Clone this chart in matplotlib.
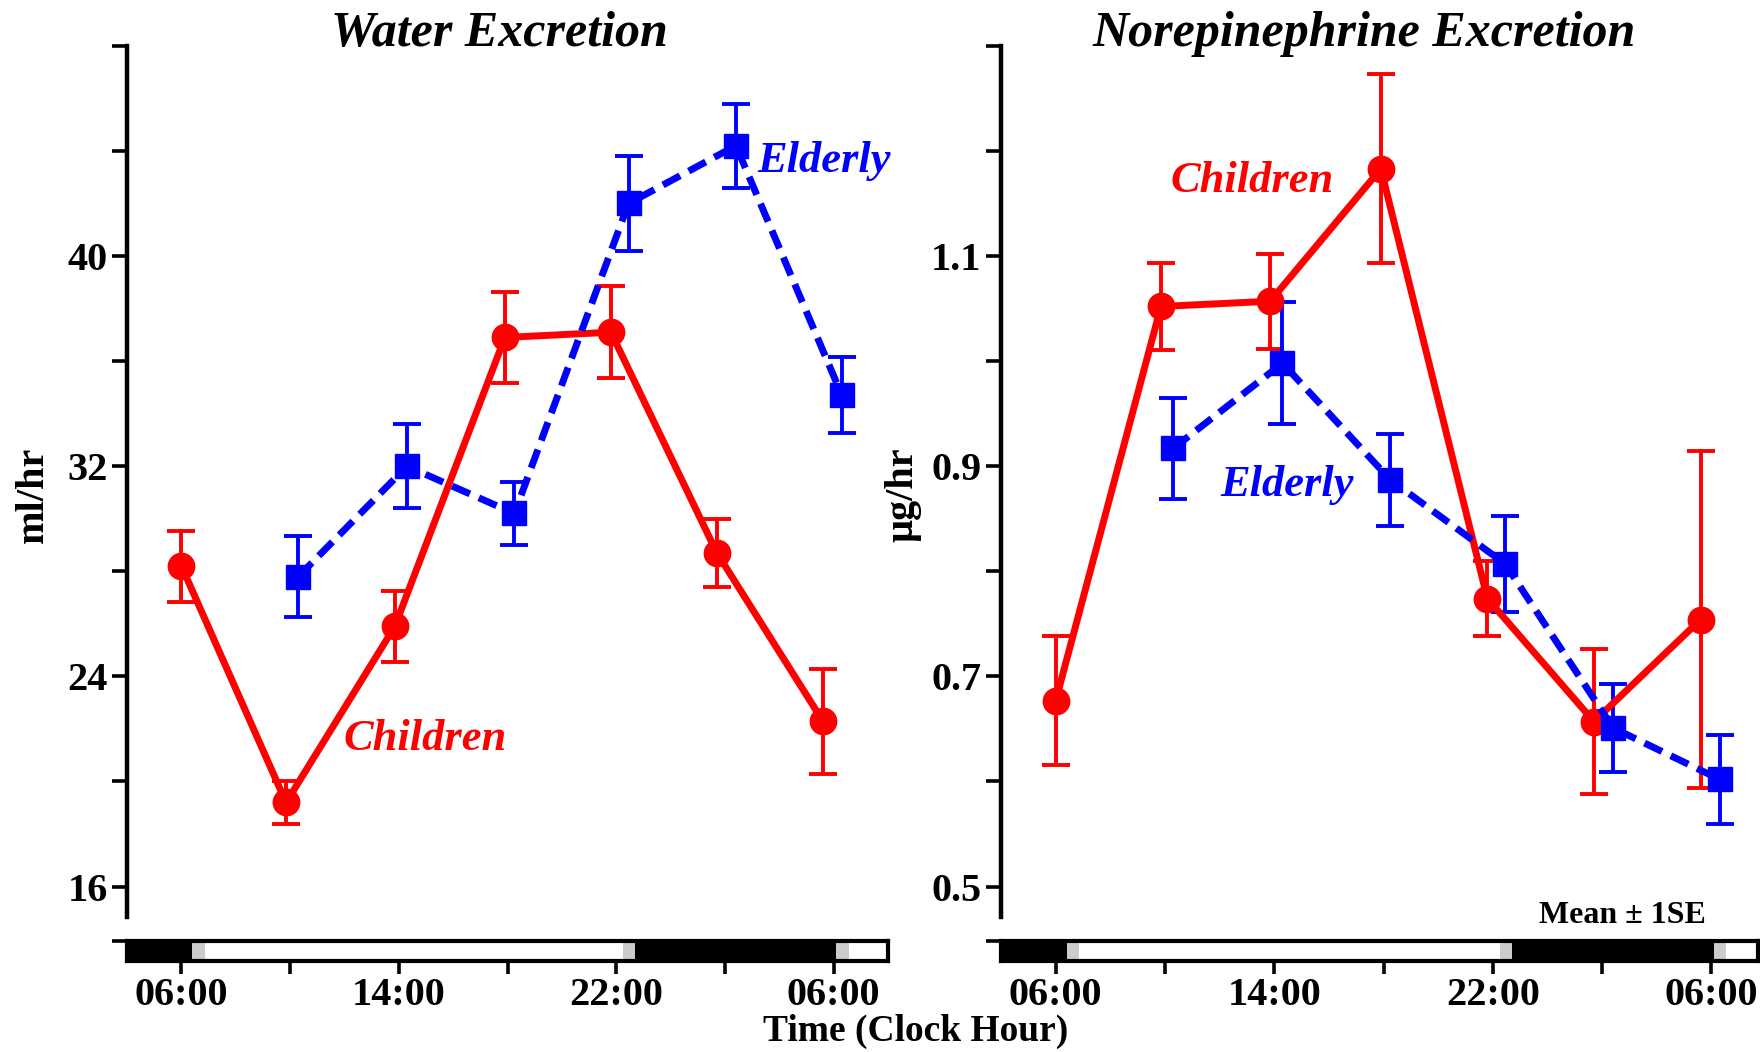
import matplotlib.pyplot as plt

plt.rcParams['font.family'] = ['Liberation Serif', 'DejaVu Serif']
plt.rcParams['font.weight'] = 'bold'

# sampling times in clock hours (values past 24 are the next morning)
child_hours = [6.0, 9.85, 13.85, 17.9, 21.8, 25.7, 29.6]
elder_hours = [10.3, 14.3, 18.25, 22.45, 26.4, 30.3]

# water excretion, ml/hr
water_child = [28.2, 19.2, 25.9, 36.9, 37.1, 28.7, 22.3]
water_child_se = [1.35, 0.8, 1.35, 1.75, 1.75, 1.3, 2.0]
water_elder = [27.8, 32.0, 30.2, 42.0, 44.2, 34.7]
water_elder_se = [1.55, 1.6, 1.2, 1.8, 1.6, 1.45]

# norepinephrine excretion, ug/hr
ne_child = [0.677, 1.052, 1.057, 1.183, 0.774, 0.657, 0.754]
ne_child_se = [0.061, 0.041, 0.045, 0.09, 0.036, 0.069, 0.16]
ne_elder = [0.917, 0.998, 0.887, 0.807, 0.651, 0.602]
ne_elder_se = [0.048, 0.058, 0.044, 0.046, 0.042, 0.042]

# light/dark schedule drawn as the bar under each panel
bar_starts = [4, 6.4, 6.85, 22.25, 22.7, 30.1, 30.55]
bar_ends = [6.4, 6.85, 22.25, 22.7, 30.1, 30.55, 32]
bar_colors = ['black', '#cccccc', 'white', '#cccccc', 'black', '#cccccc', 'white']

tick_hours = [6, 10, 14, 18, 22, 26, 30]
tick_labels = ['06:00', '', '14:00', '', '22:00', '', '06:00']

fig = plt.figure(figsize=(17.6, 10.52), dpi=100)

panels = [
    dict(rect=[0.0722, 0.1283, 0.4324, 0.8281], xmax=32,
         child=water_child, child_se=water_child_se,
         elder=water_elder, elder_se=water_elder_se,
         ylim=(14.84, 48), yticks=[16, 24, 32, 40, 48],
         ylabels=['16', '24', '32', '40', ''], yminor=[20, 28, 36, 44],
         ylabel='ml/hr', ylabel_x=0.019, title='Water Excretion', title_x=0.284,
         child_txt=(11.96, 21.62), elder_txt=(27.2, 43.6)),
    dict(rect=[0.5688, 0.1283, 0.4300, 0.8281], xmax=31.7,
         child=ne_child, child_se=ne_child_se,
         elder=ne_elder, elder_se=ne_elder_se,
         ylim=(0.471, 1.3), yticks=[0.5, 0.7, 0.9, 1.1, 1.3],
         ylabels=['0.5', '0.7', '0.9', '1.1', ''], yminor=[0.6, 0.8, 1.0, 1.2],
         ylabel='µg/hr', ylabel_x=0.513, title='Norepinephrine Excretion', title_x=0.775,
         child_txt=(10.19, 1.171), elder_txt=(12.04, 0.882)),
]

for p in panels:
    ax = fig.add_axes(p['rect'])
    ax.errorbar(child_hours, p['child'], yerr=p['child_se'], color='#ff0000',
                lw=5, marker='o', ms=19, capsize=10, elinewidth=2.8, capthick=2.8)
    ax.errorbar(elder_hours, p['elder'], yerr=p['elder_se'], color='#0000ff',
                lw=5, ls=(0, (2.8, 1.4)), marker='s', ms=17, capsize=10,
                elinewidth=2.8, capthick=2.8)
    ax.set_xlim(4, p['xmax'])
    ax.set_ylim(*p['ylim'])
    ax.set_yticks(p['yticks'])
    ax.set_yticklabels(p['ylabels'])
    ax.set_yticks(p['yminor'], minor=True)
    ax.tick_params(axis='y', which='both', length=11, width=2.6, labelsize=29, pad=3)
    ax.set_xticks([])
    for side in ['top', 'right', 'bottom']:
        ax.spines[side].set_visible(False)
    ax.spines['left'].set_linewidth(3.2)
    ax.text(*p['child_txt'], 'Children', color='#ff0000', fontsize=32,
            fontstyle='italic', va='center', ha='left')
    ax.text(*p['elder_txt'], 'Elderly', color='#0000ff', fontsize=32,
            fontstyle='italic', va='center', ha='left')
    fig.text(p['title_x'], 0.968, p['title'], fontsize=36, fontstyle='italic',
             ha='center', va='center')
    fig.text(p['ylabel_x'], 0.53, p['ylabel'], fontsize=29, rotation=90,
             ha='center', va='center')

    # light/dark bar with clock ticks
    r = p['rect']
    bx = fig.add_axes([r[0], 0.0867, r[2], 0.0192])
    for s, e, c in zip(bar_starts, bar_ends, bar_colors):
        bx.axvspan(s, e, color=c, lw=0)
    bx.set_xlim(4, p['xmax'])
    bx.set_ylim(0, 1)
    bx.set_xticks(tick_hours)
    bx.set_xticklabels(tick_labels)
    bx.set_yticks([1])
    bx.set_yticklabels([''])
    bx.tick_params(axis='x', length=9, width=2.6, labelsize=29, pad=3)
    bx.tick_params(axis='y', length=11, width=2.6)
    for side in bx.spines.values():
        side.set_linewidth(3)

fig.text(0.52, 0.003, 'Time (Clock Hour)', fontsize=27, ha='center', va='bottom')
fig.text(0.9216, 0.130, 'Mean ± 1SE', fontsize=23, ha='center', va='center')

plt.savefig('out.png', dpi=100)
